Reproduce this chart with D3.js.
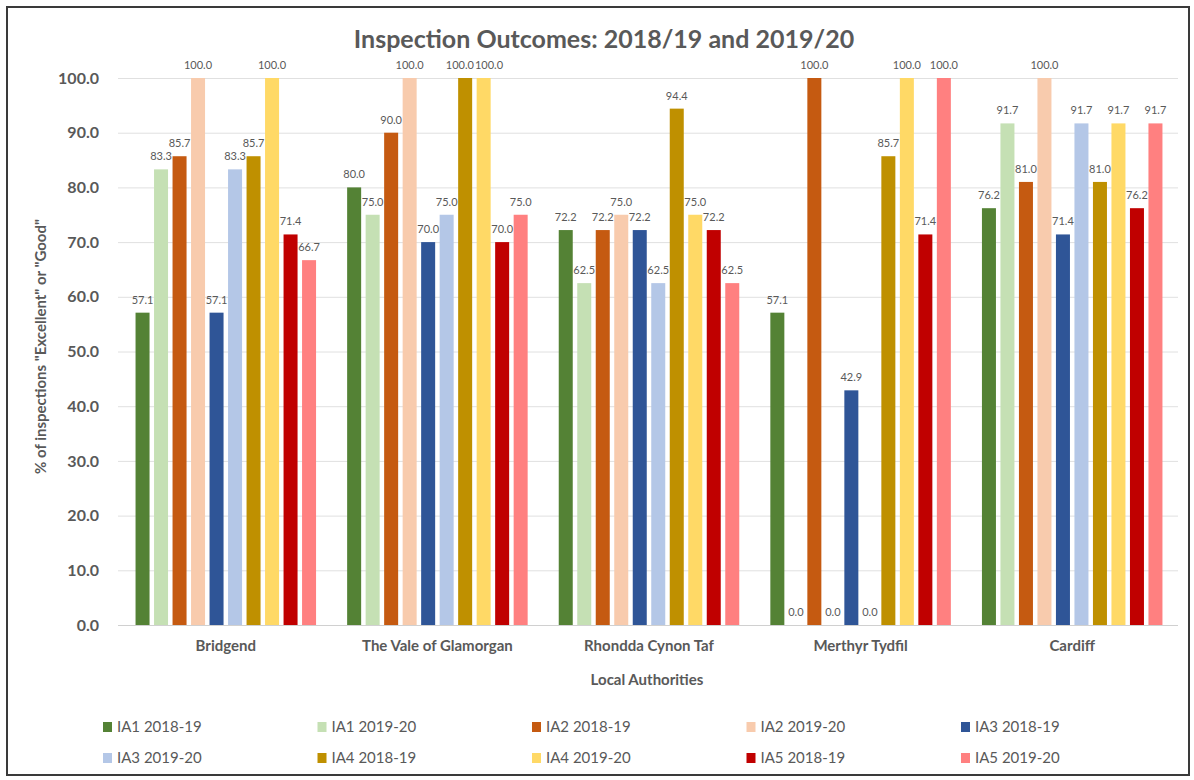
<!DOCTYPE html>
<html>
<head>
<meta charset="utf-8">
<script src="https://cdn.jsdelivr.net/npm/d3@7"></script>
<style>
  html, body { margin: 0; padding: 0; background: #fff; }
  svg { display: block; }
  text { font-family: Lato, "Open Sans", sans-serif; fill: #595959; }
</style>
</head>
<body>
<svg id="chart" width="1194" height="780"></svg>
<script>
// Local authorities (x categories)
const authorities = ["Bridgend", "The Vale of Glamorgan", "Rhondda Cynon Taf", "Merthyr Tydfil", "Cardiff"];

// Series names and colours
const seriesNames = ["IA1 2018-19", "IA1 2019-20", "IA2 2018-19", "IA2 2019-20", "IA3 2018-19",
                     "IA3 2019-20", "IA4 2018-19", "IA4 2019-20", "IA5 2018-19", "IA5 2019-20"];
const seriesColors = ["#548235", "#C5E0B4", "#C55A11", "#F8CBAD", "#2F5597",
                      "#B4C7E7", "#BF9000", "#FFD966", "#C00000", "#FF8080"];

// % of inspections rated "Excellent" or "Good", one array per series (in authority order)
const ia1_1819 = [57.1, 80.0, 72.2, 57.1, 76.2];
const ia1_1920 = [83.3, 75.0, 62.5, 0.0, 91.7];
const ia2_1819 = [85.7, 90.0, 72.2, 100.0, 81.0];
const ia2_1920 = [100.0, 100.0, 75.0, 0.0, 100.0];
const ia3_1819 = [57.1, 70.0, 72.2, 42.9, 71.4];
const ia3_1920 = [83.3, 75.0, 62.5, 0.0, 91.7];
const ia4_1819 = [85.7, 100.0, 94.4, 85.7, 81.0];
const ia4_1920 = [100.0, 100.0, 75.0, 100.0, 91.7];
const ia5_1819 = [71.4, 70.0, 72.2, 71.4, 76.2];
const ia5_1920 = [66.7, 75.0, 62.5, 100.0, 91.7];
const seriesValues = [ia1_1819, ia1_1920, ia2_1819, ia2_1920, ia3_1819,
                      ia3_1920, ia4_1819, ia4_1920, ia5_1819, ia5_1920];

// Axis ticks
const yTicks = [0, 10, 20, 30, 40, 50, 60, 70, 80, 90, 100];

const svg = d3.select("#chart");

// Outer frame
svg.append("rect")
  .attr("x", 7).attr("y", 7).attr("width", 1182).attr("height", 768)
  .attr("fill", "#fff").attr("stroke", "#3a3a3a").attr("stroke-width", 2);

const plot = { left: 120, right: 1178, top: 78, bottom: 625 };

const x0 = d3.scaleBand().domain(authorities).range([plot.left, plot.right]).padding(0);
const x1 = d3.scaleBand().domain(seriesNames).range([0, x0.bandwidth()])
  .paddingInner(0.243).paddingOuter(0.84);
const y = d3.scaleLinear().domain([0, 100]).range([plot.bottom, plot.top]);

// Gridlines
svg.append("g").selectAll("line").data(yTicks).join("line")
  .attr("x1", plot.left - 2).attr("x2", plot.right)
  .attr("y1", d => y(d) + 0.5).attr("y2", d => y(d) + 0.5)
  .attr("stroke", d => d === 0 ? "#d0d0d0" : "#e0e0e0").attr("stroke-width", 1);

// Y axis tick labels
const yAxis = d3.axisLeft(y).tickValues(yTicks).tickFormat(d3.format(".1f")).tickSize(0).tickPadding(0);
const gy = svg.append("g").attr("transform", `translate(${plot.left - 21},0)`).call(yAxis);
gy.select(".domain").remove();
gy.selectAll("text")
  .style("font-family", "Lato, 'Open Sans', sans-serif")
  .style("font-weight", "bold").style("font-size", "16px").attr("fill", "#595959");

// Bars
const rows = authorities.map((a, i) => ({
  name: a,
  vals: seriesNames.map((s, j) => ({ series: s, color: seriesColors[j], value: seriesValues[j][i] }))
}));

const groups = svg.append("g").selectAll("g").data(rows).join("g")
  .attr("transform", d => `translate(${x0(d.name)},0)`);

groups.selectAll("rect").data(d => d.vals).join("rect")
  .attr("x", d => x1(d.series))
  .attr("y", d => y(d.value))
  .attr("width", x1.bandwidth())
  .attr("height", d => y(0) - y(d.value))
  .attr("fill", d => d.color);

// Value labels
groups.each(function () {
  const labels = d3.select(this).selectAll("text.val").data(d => d.vals).join("text")
    .attr("class", "val")
    .attr("x", d => x1(d.series) + x1.bandwidth() / 2)
    .attr("y", d => y(d.value) - 9)
    .attr("text-anchor", "middle")
    .style("font-size", "11px")
    .text(d => d3.format(".1f")(d.value));

  // Nudge neighbouring labels apart when they sit at the same height and collide
  const nodes = labels.nodes();
  for (let i = 1; i < nodes.length; i++) {
    const a = nodes[i - 1], b = nodes[i];
    const ya = +a.getAttribute("y"), yb = +b.getAttribute("y");
    if (Math.abs(ya - yb) >= 11) continue;
    const xa = +a.getAttribute("x"), xb = +b.getAttribute("x");
    const need = a.getComputedTextLength() / 2 + b.getComputedTextLength() / 2 + 1;
    const over = need - (xb - xa);
    if (over > 0) {
      a.setAttribute("x", xa - over / 2);
      b.setAttribute("x", xb + over / 2);
    }
  }
});

// X axis category labels
const xAxis = d3.axisBottom(x0).tickSize(0).tickPadding(0);
const gx = svg.append("g").attr("transform", `translate(0,${plot.bottom + 15})`).call(xAxis);
gx.select(".domain").remove();
gx.selectAll("text")
  .style("font-family", "Lato, 'Open Sans', sans-serif")
  .style("font-weight", "bold").style("font-size", "15px").attr("fill", "#595959");

// Axis titles
svg.append("text")
  .attr("x", (plot.left + plot.right) / 2 - 2).attr("y", 685)
  .attr("text-anchor", "middle")
  .style("font-weight", "bold").style("font-size", "15px")
  .text("Local Authorities");

svg.append("text")
  .attr("transform", `translate(46,${(plot.top + plot.bottom) / 2 - 5}) rotate(-90)`)
  .attr("text-anchor", "middle")
  .style("font-weight", "bold").style("font-size", "15px")
  .text("% of inspections \"Excellent\" or \"Good\"");

// Title
svg.append("text")
  .attr("x", 604).attr("y", 48)
  .attr("text-anchor", "middle")
  .style("font-weight", "bold").style("font-size", "25px")
  .text("Inspection Outcomes: 2018/19 and 2019/20");

// Legend: 5 columns x 2 rows
const legend = svg.append("g").selectAll("g").data(seriesNames).join("g")
  .attr("transform", (d, i) => `translate(${103 + (i % 5) * 214.5},${727 + Math.floor(i / 5) * 31})`);
legend.append("rect")
  .attr("x", 0).attr("y", -5).attr("width", 9).attr("height", 10)
  .attr("fill", (d, i) => seriesColors[i]);
legend.append("text")
  .attr("x", 14).attr("y", 0).attr("dy", "0.35em")
  .style("font-size", "15px")
  .text(d => d);
</script>
</body>
</html>
